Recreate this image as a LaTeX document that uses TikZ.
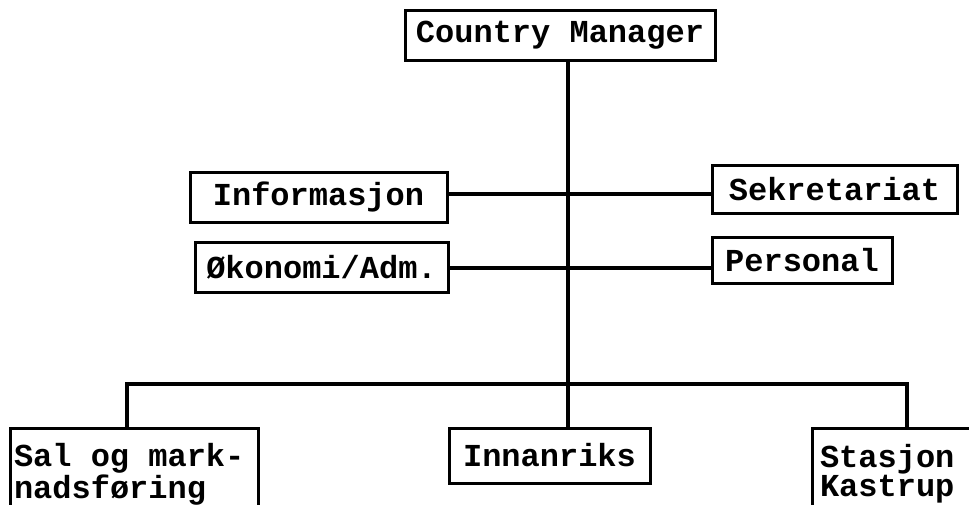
\documentclass[tikz,border=0pt]{standalone}
\usepackage{fontspec}
\newfontfamily\typew{Liberation Mono}[WordSpace={1,0,0},PunctuationSpace=WordSpace,Kerning=Off]
% fixed-pitch label font
\newcommand\orgfont[1]{\typew\bfseries\fontsize{32}{#1}\selectfont}
\begin{document}
\begin{tikzpicture}[x=1pt,y=-1pt,
  unit/.style={draw,line width=3pt,rectangle,inner sep=0pt,font=\orgfont{32},
    execute at begin node={\spaceskip=19.2pt\xspaceskip=19.2pt\relax}},
  link/.style={line width=3.4pt}]
\useasboundingbox (0,0) rectangle (969,504);
% boxes
\node[unit,minimum width=310,minimum height=50] (cm) at (560,35) {Country Manager};
\node[unit,minimum width=257,minimum height=50] (info) at (318.5,197) {Informasjon};
\node[unit,minimum width=253,minimum height=50] (oko) at (321.5,267) {Økonomi/Adm.};
\node[unit,minimum width=245,minimum height=48] (sek) at (834.5,189) {Sekretariat};
\node[unit,minimum width=180,minimum height=46] (pers) at (802,260) {Personal};
\node[unit,minimum width=201,minimum height=55] (inn) at (549.5,455.5) {Innanriks};
\node[unit,minimum width=248,minimum height=92,align=left,text width=240] (sal) at (134,474)
  {Sal og mark-\\nadsføring};
% tight two-line label, set high in its box
\node[unit,minimum width=180,minimum height=92,align=left,text width=164,
  font=\orgfont{24}] (st) at (902,474)
  {Stasjon\\Kastrup\par\vspace{30pt}};
% guide coordinates for the connector lines
\coordinate (trunkx) at (568,0);
\coordinate (salx) at (127,0);
\coordinate (stx) at (907,0);
\coordinate (row1) at (0,194);
\coordinate (row2) at (0,268);
\coordinate (bar) at (0,384);
% connectors
\draw[link] (trunkx |- cm.south) -- (trunkx |- inn.north);
\draw[link] (info.east |- row1) -- (sek.west |- row1);
\draw[link] (oko.east |- row2) -- (pers.west |- row2);
\draw[link] (salx |- sal.north) -- (salx |- bar) -- (stx |- bar) -- (stx |- st.north);
\end{tikzpicture}
\end{document}
